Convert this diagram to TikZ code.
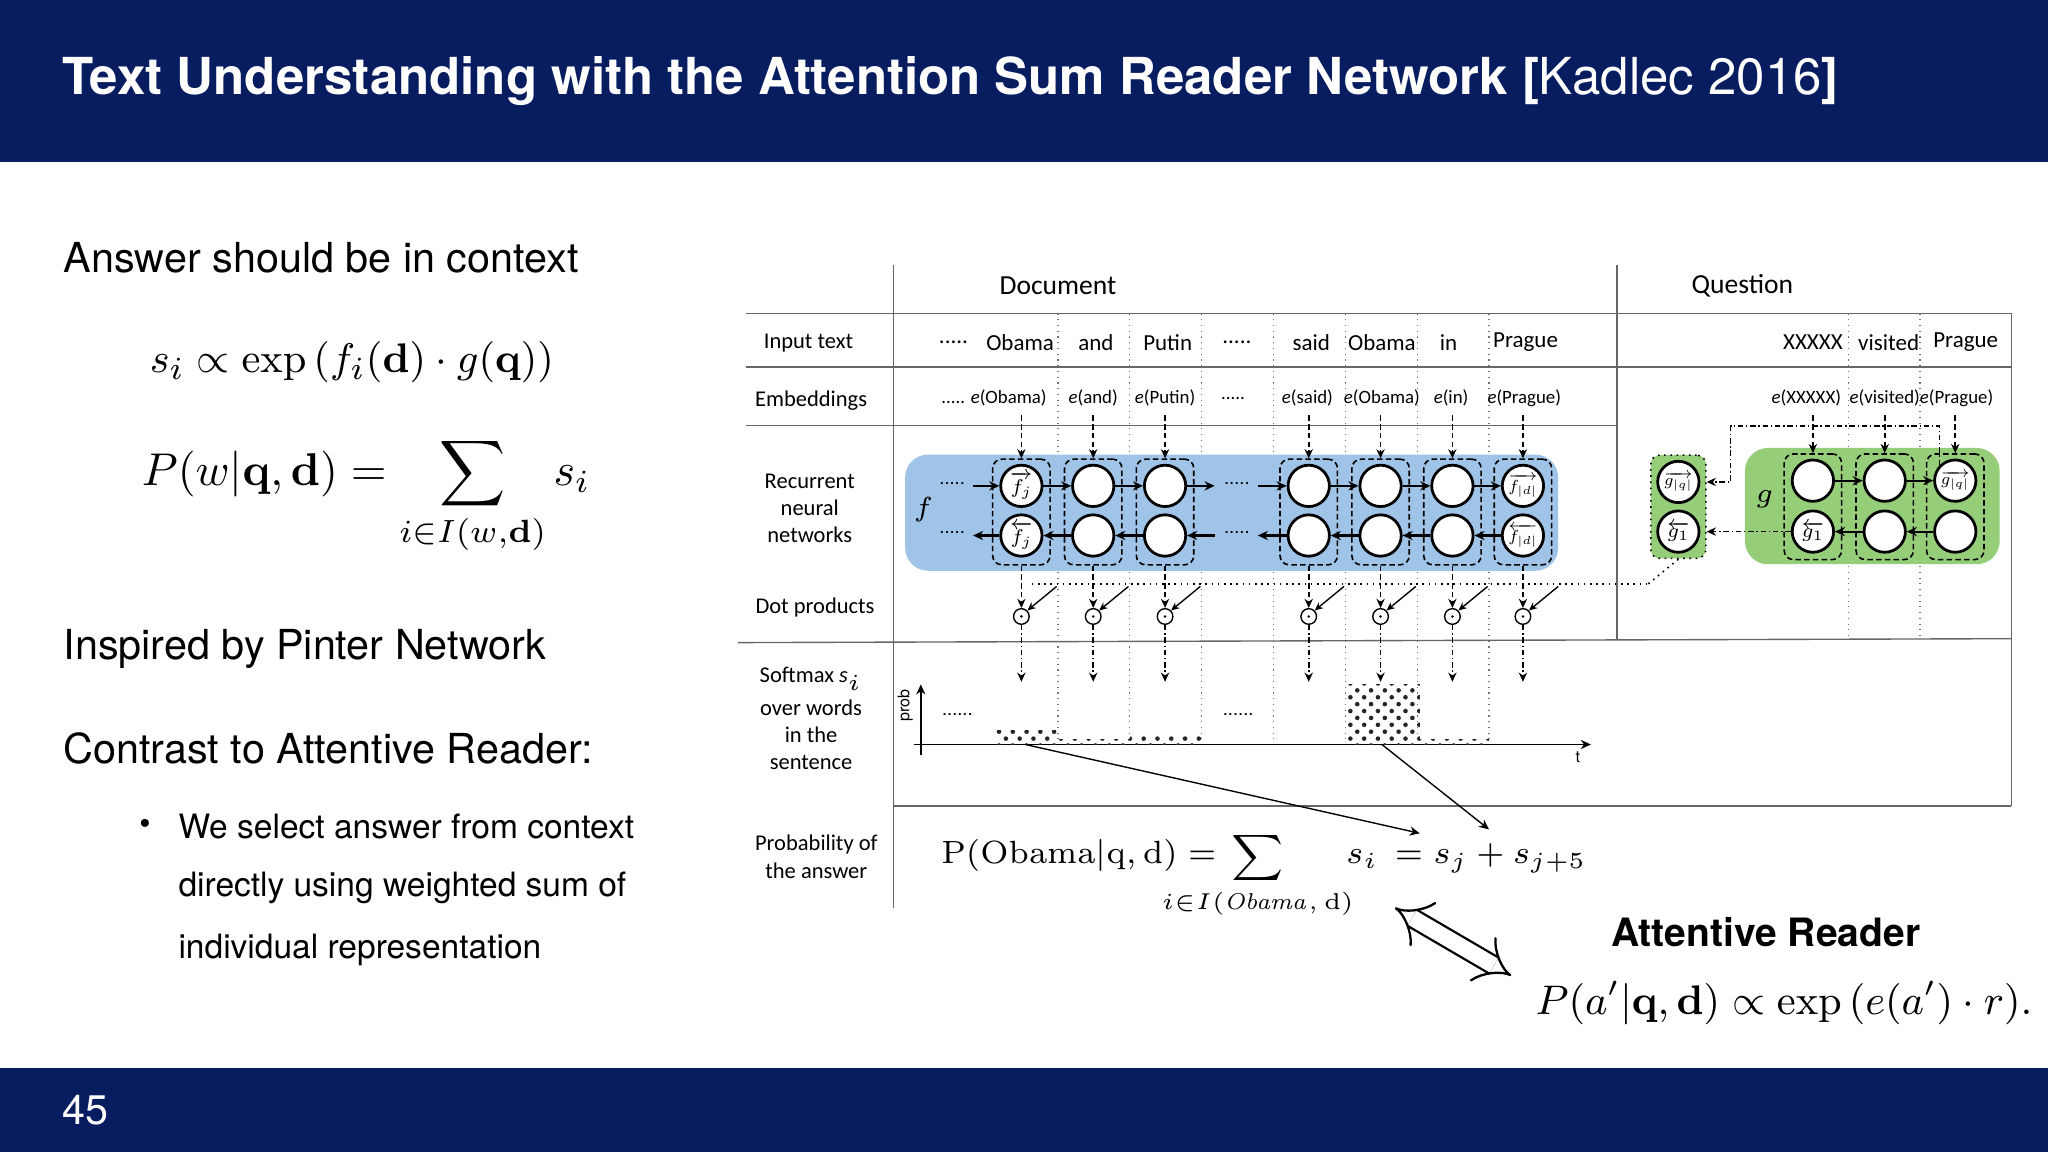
\documentclass[tikz,border=0pt]{standalone}
\usepackage{amsmath,amssymb}
\usepackage[no-math]{fontspec}
\setmainfont{TeX Gyre Heros}
\newfontfamily\dg{Carlito}
\usetikzlibrary{arrows.meta,calc,patterns}
\definecolor{navy}{RGB}{8,28,96}
\definecolor{rnnblue}{RGB}{160,196,232}
\definecolor{rnngreen}{RGB}{150,205,120}
\newcommand{\fs}[1]{\fontsize{#1}{#1}\selectfont}
\newcommand{\cl}[2][0.62]{\scalebox{#1}{\fs{7pt}$#2$}}
\begin{document}
\begin{tikzpicture}[x=0.01cm,y=-0.01cm,
  lbl/.style={font=\dg\fs{4.9pt},align=center,inner sep=0},
  cell/.style={circle,draw,line width=0.6pt,fill=white,minimum size=9pt,inner sep=0},
  clab/.style={inner sep=0},
  dbox/.style={draw,dash pattern=on 1.2pt off 0.7pt,rounded corners=2pt,line width=0.35pt,minimum width=12.5pt,minimum height=23pt,inner sep=0},
  dotc/.style={circle,draw,line width=0.3pt,minimum size=3.4pt,inner sep=0},
  ar/.style={-{Stealth[length=2.2pt,width=2pt]},line width=0.45pt},
  dar/.style={-{Stealth[length=2pt,width=1.8pt]},dash pattern=on 1.2pt off 0.7pt,line width=0.35pt},
  ddar/.style={-{Stealth[length=2pt,width=1.8pt]},dash pattern=on 1.2pt off 0.6pt on 0.3pt off 0.6pt,line width=0.35pt},
  thin/.style={line width=0.3pt,black!60},
  sep/.style={densely dotted,line width=0.25pt,black!55},
  txt/.style={anchor=west,inner sep=0}]
\useasboundingbox (0,0) rectangle (1568,882);
\fill[white] (0,0) rectangle (1568,882);
% bars
\fill[navy] (0,0) rectangle (1568,124);
\fill[navy] (0,818) rectangle (1568,882);
\node[txt,text=white,font=\bfseries\fs{11.1pt}] (title) at (47,62) {Text Understanding with the Attention Sum Reader Network [\textmd{Kadlec 2016}]};
\node[txt,text=white,font=\fs{9pt}] (pg) at (47,850) {45};
% left text
\node[txt,font=\fs{9pt}] (t1) at (48,197) {Answer should be in context};
\node[txt,font=\fs{9.3pt}] (f1) at (114,277) {$s_i \propto \exp\left(f_i(\mathbf{d})\cdot g(\mathbf{q})\right)$};
\node[txt,font=\fs{10pt}] (f2) at (108,380) {$P(w|\mathbf{q},\mathbf{d}) = \displaystyle\sum_{i\in I(w,\mathbf{d})} s_i$};
\node[txt,font=\fs{9pt}] (t2) at (48,497) {Inspired by Pinter Network};
\node[txt,font=\fs{9pt}] (t3) at (48,573) {Contrast to Attentive Reader:};
\node[font=\fs{7pt}] (bul) at (111,633) {\textbullet};
\node[txt,font=\fs{7.3pt}] (b1) at (136,633) {We select answer from context};
\node[txt,font=\fs{7.3pt}] (b2) at (136,680) {directly using weighted sum of};
\node[txt,font=\fs{7.3pt}] (b3) at (136,727) {individual representation};
% table lines
\draw[thin] (684,203) -- (684,695);
\draw[thin] (1238,203) -- (1238,490);
\draw[thin] (1540,240) -- (1540,617);
\draw[thin] (571,240) -- (1540,240);
\draw[thin] (571,281) -- (1540,281);
\draw[thin] (571,326) -- (1238,326);
\draw[thin] (565,492) -- (1540,489);
\draw[thin] (684,617) -- (1540,617);
\node[lbl,font=\dg\fs{6pt}] (doc) at (810,219) {Document};
\node[lbl,font=\dg\fs{6pt}] (que) at (1334,219) {Question};
\node[lbl] (r1) at (619,263) {Input text};
\node[lbl] (r2) at (621,307) {Embeddings};
\node[lbl,align=center] (r3) at (620,389) {Recurrent\\[1pt]neural\\[1pt]networks};
\node[lbl] (r4) at (624,465) {Dot products};
\node[lbl,align=center] (r5) at (621,550) {Softmax \textit{s}$_i$\\[1pt]over words\\[1pt]in the\\[1pt]sentence};
\node[lbl,align=center] (r6) at (625,656) {Probability of\\[1pt]the answer};
% separators
\foreach \x in {810,865,920,975,1030,1085,1140} \draw[sep] (\x,240) -- (\x,570);
\foreach \x in {1415,1470} \draw[sep] (\x,240) -- (\x,490);
% words
\foreach \x/\w in {730/{.....},781/Obama,839/and,894/Putin,947/{.....},1004/said,1058/Obama,1109/in,1168/Prague,1388/XXXXX,1446/visited,1505/Prague}
  \node[lbl,font=\dg\fs{5pt}] at (\x,262) {\w};
\foreach \x/\w in {761/{..... \textit{e}(Obama)},837/{\textit{e}(and)},892/{\textit{e}(Putin)},944/{.....},1001/{\textit{e}(said)},1058/{\textit{e}(Obama)},1111/{\textit{e}(in)},1167/{\textit{e}(Prague)},1383/{\textit{e}(XXXXX)},1443/{\textit{e}(visited)},1498/{\textit{e}(Prague)}}
  \node[lbl,font=\dg\fs{4.1pt}] at (\x,305) {\w};
% blue RNN
\fill[rnnblue,rounded corners=5pt] (693,348) rectangle (1193,437);
\node[font=\fs{6pt}] (f) at (707,390) {$f$};
\foreach \x [count=\i] in {782,837,892,1002,1057,1112,1166} {
  \node[dbox] (db\i) at (\x,392) {};
  \node[cell] (u\i) at (\x,372) {};
  \node[cell] (l\i) at (\x,410) {};
  \node[dotc] (dd\i) at (\x,472) {};
  \fill (dd\i) circle (0.3pt);
  \draw[dar] (\x,318) -- (db\i.north);
  \draw[dar] (db\i.south) -- (dd\i.north);
  \draw[ddar] (dd\i.south) -- (\x,522);
  \draw[-{Stealth[length=1.8pt,width=1.6pt]},line width=0.3pt] (\x+27,449) -- (dd\i.north east);
}
\node[clab] at (u1) {\cl{\overrightarrow{f_j}}};
\node[clab] at (l1) {\cl{\overleftarrow{f_j}}};
\node[clab] at (u7) {\cl[0.5]{\overrightarrow{f_{|d|}}}};
\node[clab] at (l7) {\cl[0.5]{\overleftarrow{f_{|d|}}}};
\foreach \a/\b in {1/2,2/3,4/5,5/6,6/7} {
  \draw[ar] (u\a) -- (u\b);
  \draw[ar] (l\b) -- (l\a);
}
\coordinate (ua) at (745,372); \coordinate (la) at (745,410);
\node[font=\fs{4pt}] at (729,370) {.....};
\node[font=\fs{4pt}] at (729,408) {.....};
\draw[ar] (ua) -- (u1); \draw[ar] (l1) -- (la);
\coordinate (ub) at (930,372); \coordinate (lb) at (930,410);
\draw[ar] (u3) -- (ub); \draw[ar] (lb) -- (l3);
\node[font=\fs{4pt}] at (947,370) {.....};
\node[font=\fs{4pt}] at (947,408) {.....};
\coordinate (uc) at (963,372); \coordinate (lc) at (963,410);
\draw[ar] (uc) -- (u4); \draw[ar] (l4) -- (lc);
% dotted query line
\coordinate (q0) at (790,447);
\coordinate (q1) at (1262,447);
\draw[densely dotted,line width=0.35pt] (q0) -- (q1);
% green question
\fill[rnngreen,rounded corners=5pt] (1336,343) rectangle (1531,432);
\node[font=\fs{6pt}] (g) at (1351,382) {$g$};
\foreach \x [count=\i] in {1388,1443,1497} {
  \node[dbox] (gb\i) at (\x,388) {};
  \node[cell] (gu\i) at (\x,368) {};
  \node[cell] (gl\i) at (\x,407) {};
  \draw[dar] (\x,318) -- (gb\i.north);
}
\node[clab] at (gu3) {\cl[0.5]{\overrightarrow{g_{|q|}}}};
\node[clab] at (gl1) {\cl{\overleftarrow{g_1}}};
\draw[ar] (gu1) -- (gu2); \draw[ar] (gu2) -- (gu3);
\draw[ar] (gl3) -- (gl2); \draw[ar] (gl2) -- (gl1);
\node[draw,densely dotted,fill=rnngreen,rounded corners=2pt,minimum width=12pt,minimum height=22.5pt,inner sep=0,line width=0.35pt] (sb) at (1285,388) {};
\node[cell] (su) at (1285,369) {};
\node[cell] (sl) at (1285,407) {};
\node[clab] at (su) {\cl[0.5]{\overrightarrow{g_{|q|}}}};
\node[clab] at (sl) {\cl{\overleftarrow{g_1}}};
\draw[ddar] (gu3.north west) -- ++(0,-30) -| (1325,369) -- (sb.east |- su);
\draw[ddar] (gl1.west) -- (sb.east |- sl);
\draw[densely dotted,line width=0.35pt] (sb.south) -- (q1);
% chart
\draw[-{Stealth[length=2.2pt,width=2pt]},line width=0.3pt] (705,578) -- (705,524);
\draw[-{Stealth[length=2.2pt,width=2pt]},line width=0.3pt] (700,570) -- (1218,570);
\node[rotate=90,font=\fs{3.5pt}] (prob) at (693,540) {prob};
\node[font=\fs{3.5pt}] (t) at (1208,580) {t};
\node[font=\fs{4pt}] at (733,547) {......};
\node[font=\fs{4pt}] at (948,547) {......};
\foreach \a/\b/\h in {762/810/559,810/865/566,865/920/562,1031/1087/524,1087/1140/566}
  \fill[pattern=crosshatch dots,pattern color=black!85] (\a,\h) rectangle (\b,570);
\coordinate (e1) at (1087,638); \coordinate (e2) at (1140,635);
\draw[ar,line width=0.3pt] (785,570) -- (e1);
\draw[ar,line width=0.3pt] (1058,570) -- (e2);
% formula
\node[txt,font=\fs{7pt}] (pf) at (720,655) {$\mathrm{P(Obama|q,d)} =$};
\node[font=\fs{7pt}] (sig) at (963,657) {$\displaystyle\sum$};
\node[font=\fs{5pt}] (sub) at (963,692) {$i{\in}I(\mathit{Obama},\mathrm{d})$};
\node[txt,font=\fs{7pt}] (sj) at (1030,657) {$s_i\,=s_j+s_{j+5}$};
\node[font=\bfseries\fs{8.5pt}] (att) at (1352,714) {Attentive Reader};
\node[txt,font=\fs{9.2pt}] (af) at (1175,768) {$P(a'|\mathbf{q},\mathbf{d}) \propto \exp\,(e(a')\cdot r).$};
\coordinate (da) at (1068,695); \coordinate (db) at (1157,747);
\draw[double distance=3.5pt,line width=0.5pt,{Implies[length=4pt]}-{Implies[length=4pt]}] (da) -- (db);
\end{tikzpicture}
\end{document}
